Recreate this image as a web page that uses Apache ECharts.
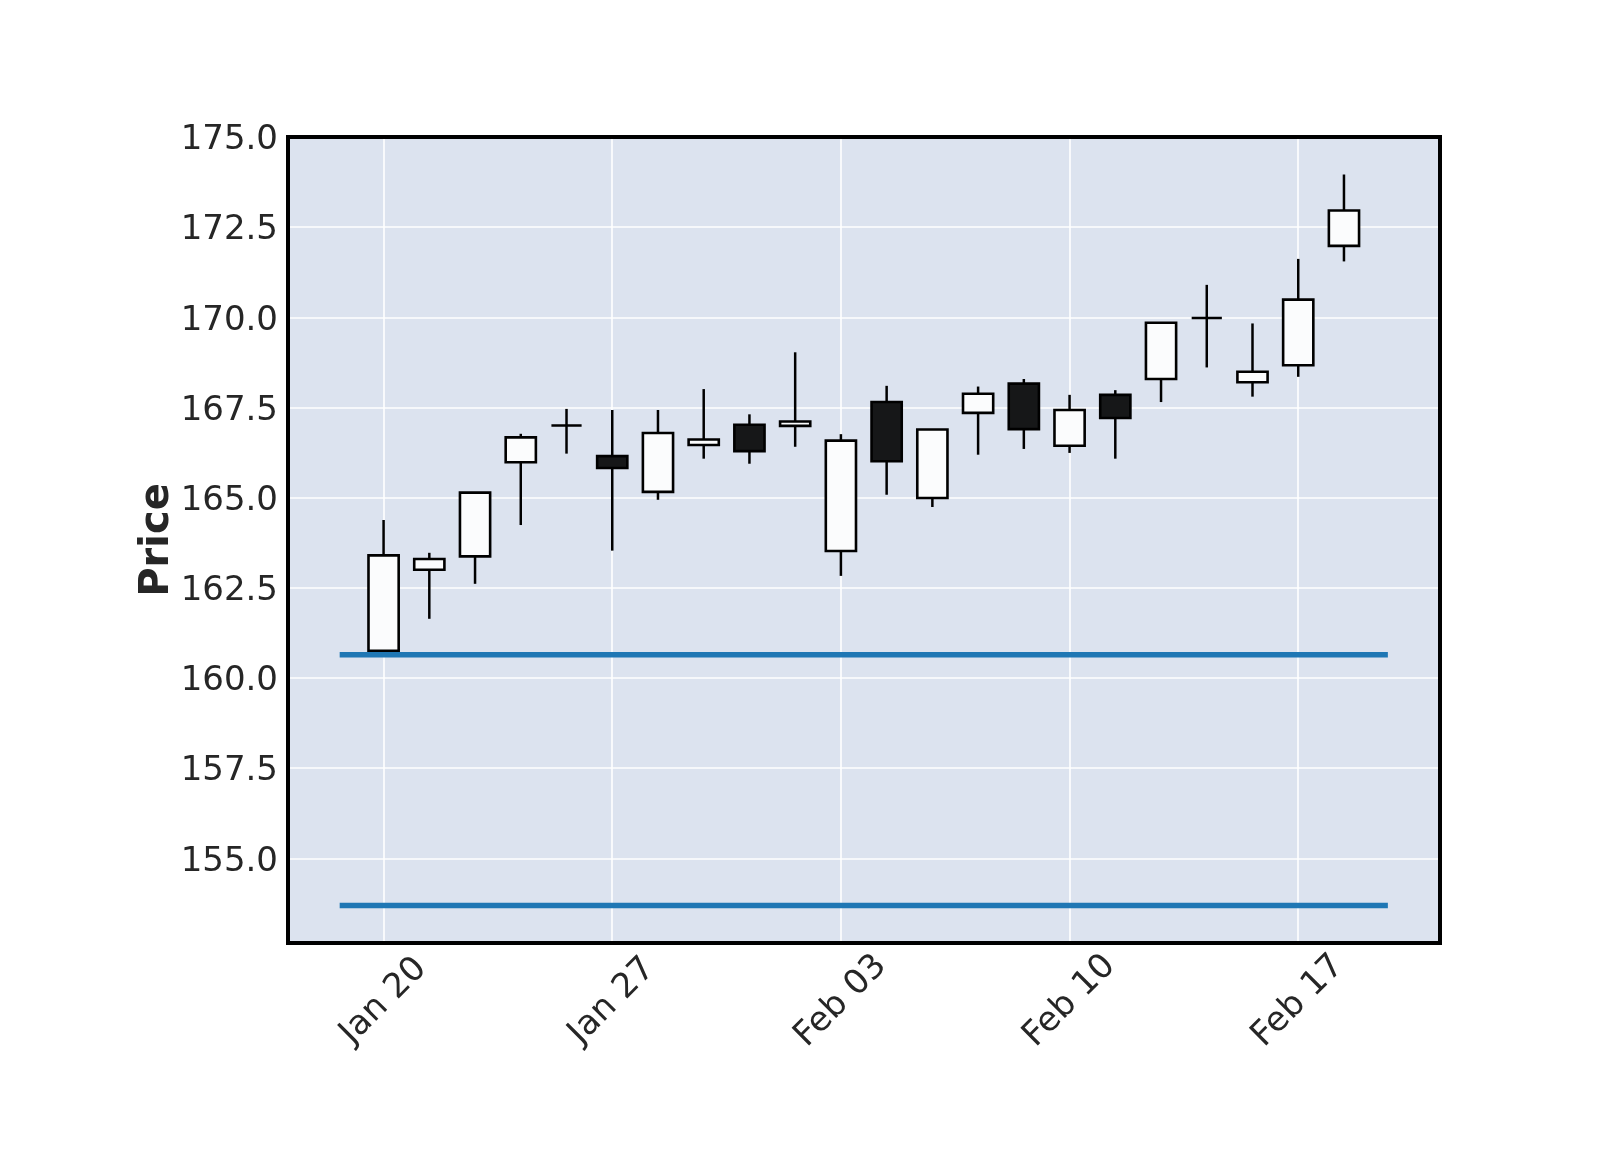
<!DOCTYPE html>
<html>
<head>
<meta charset="utf-8">
<script src="https://cdn.jsdelivr.net/npm/echarts@6/dist/echarts.min.js"></script>
<style>
html,body{margin:0;padding:0;background:#fff;}
#chart{width:1600px;height:1150px;}
</style>
</head>
<body>
<div id="chart"></div>
<script>
// ---- data ----
const dates = ['2025-01-20','2025-01-21','2025-01-22','2025-01-23','2025-01-24',
               '2025-01-27','2025-01-28','2025-01-29','2025-01-30','2025-01-31',
               '2025-02-03','2025-02-04','2025-02-05','2025-02-06','2025-02-07',
               '2025-02-10','2025-02-11','2025-02-12','2025-02-13','2025-02-14',
               '2025-02-17','2025-02-18'];
const opens  = [160.75,163.00,163.37,165.98,167.00,166.15,165.16,166.46,167.02,166.99,
                163.52,167.65,164.99,167.35,168.16,166.44,167.85,168.29,169.98,168.20,168.67,171.98];
const closes = [163.40,163.30,165.14,166.67,167.00,165.82,166.79,166.61,166.29,167.11,
                166.58,166.01,166.89,167.88,166.90,167.43,167.21,169.85,169.98,168.49,170.49,172.96];
const lows   = [160.64,161.64,162.61,164.24,166.22,163.53,164.94,166.08,165.94,166.41,
                162.83,165.08,164.74,166.19,166.35,166.24,166.08,167.65,168.61,167.80,168.35,171.55];
const highs  = [164.38,163.47,165.14,166.77,167.46,167.43,167.43,168.01,167.31,169.03,
                166.76,168.10,166.89,168.08,168.29,167.85,167.98,169.85,170.90,169.83,171.62,173.96];
const hlineValues = [160.64, 153.69];
const hlineSpan = [-0.96, 21.96];
const xTickIndex = [0, 5, 10, 15, 20];
const yTicks = [155.0, 157.5, 160.0, 162.5, 165.0, 167.5, 170.0, 172.5, 175.0];

const MONTHS = ['Jan','Feb','Mar','Apr','May','Jun','Jul','Aug','Sep','Oct','Nov','Dec'];
function fmtDate(s){ const p = s.split('-'); return MONTHS[+p[1]-1] + ' ' + p[2]; }

const ohlc = dates.map((d, i) => [i, opens[i], closes[i], lows[i], highs[i]]);

const FONT = 'DejaVu Sans';
const BODY_W = 0.66;

const chart = echarts.init(document.getElementById('chart'), null, {renderer: 'canvas'});
const gridPos = {left: 288, top: 137, right: 160, bottom: 207};
chart.setOption({
  animation: false,
  backgroundColor: '#ffffff',
  grid: [
    Object.assign({show: true, backgroundColor: '#DCE3EF', borderWidth: 0, containLabel: false}, gridPos),
    Object.assign({show: true, backgroundColor: 'transparent', borderColor: '#000000', borderWidth: 4, z: 20}, gridPos)
  ],
  xAxis: {
    type: 'value', gridIndex: 0,
    min: -2.09, max: 23.1,
    axisLine: {show: false},
    axisTick: {show: false, customValues: xTickIndex},
    axisLabel: {
      customValues: xTickIndex,
      rotate: 45, align: 'center', verticalAlign: 'middle', margin: 58,
      fontFamily: FONT, fontSize: 34, color: '#262626',
      formatter: v => fmtDate(dates[Math.round(v)])
    },
    splitLine: {show: true, lineStyle: {color: '#ffffff', width: 1.6}}
  },
  yAxis: {
    type: 'value', gridIndex: 0,
    min: 152.65, max: 175.0,
    name: 'Price', nameLocation: 'middle', nameRotate: 90, nameGap: 130,
    nameMoveOverlap: false,
    nameTextStyle: {fontFamily: FONT, fontWeight: 'bold', fontSize: 40, color: '#262626', verticalAlign: 'middle'},
    axisLine: {show: false},
    axisTick: {show: false, customValues: yTicks},
    axisLabel: {
      customValues: yTicks, margin: 10,
      verticalAlign: 'top', lineHeight: 7,
      fontFamily: FONT, fontSize: 34, color: '#262626',
      formatter: v => v.toFixed(1)
    },
    splitLine: {show: true, lineStyle: {color: '#ffffff', width: 1.6}}
  },
  series: [
    {
      type: 'custom',
      xAxisIndex: 0, yAxisIndex: 0,
      data: ohlc,
      encode: {x: 0, y: [1, 2, 3, 4]},
      renderItem: function (params, api) {
        const i = api.value(0), o = api.value(1), c = api.value(2), l = api.value(3), h = api.value(4);
        const pH = api.coord([i, h]);
        const pL = api.coord([i, l]);
        const pO = api.coord([i, o]);
        const pC = api.coord([i, c]);
        const w = api.size([BODY_W, 0])[0];
        const top = Math.min(pO[1], pC[1]);
        const bot = Math.max(pO[1], pC[1]);
        const up = c >= o;
        return {
          type: 'group',
          children: [
            {type: 'line', shape: {x1: pH[0], y1: pH[1], x2: pL[0], y2: pL[1]},
             style: {stroke: '#000000', lineWidth: 2.5}},
            {type: 'rect', shape: {x: pO[0] - w / 2, y: top, width: w, height: bot - top},
             style: {fill: up ? '#fbfcfd' : '#161718', stroke: '#000000', lineWidth: 2.6}}
          ]
        };
      }
    }
  ].concat(hlineValues.map(v => ({
    type: 'line',
    xAxisIndex: 0, yAxisIndex: 0,
    data: hlineSpan.map(x => [x, v]),
    symbol: 'none',
    lineStyle: {color: '#1f77b4', width: 5.5},
    z: 3
  })))
});
</script>
</body>
</html>
